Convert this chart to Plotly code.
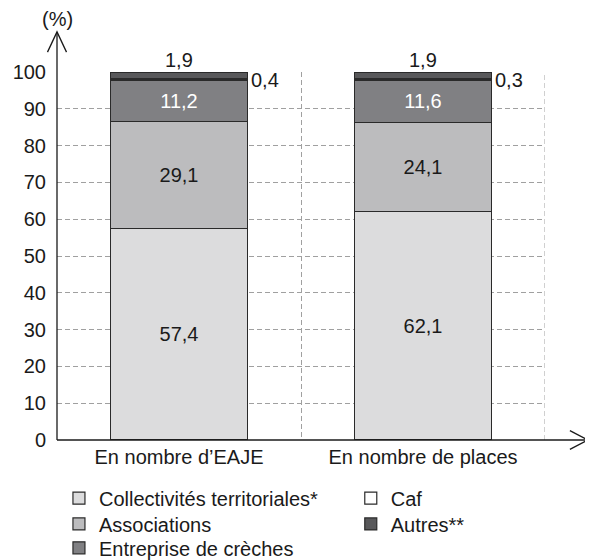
import plotly.graph_objects as go

categories = ["En nombre d\u2019EAJE", "En nombre de places"]
series_names = ["Collectivités territoriales*", "Associations", "Entreprise de crèches", "Caf", "Autres**"]
collectivites = [57.4, 62.1]
associations = [29.1, 24.1]
entreprise = [11.2, 11.6]
caf = [0.4, 0.3]
autres = [1.9, 1.9]
y_ticks = [0, 10, 20, 30, 40, 50, 60, 70, 80, 90, 100]

values = [collectivites, associations, entreprise, caf, autres]
colors = ["#dcdcdd", "#bcbcbe", "#808083", "#ffffff", "#58585a"]
text_colors = ["#1a1a1a", "#1a1a1a", "#ffffff", "#1a1a1a", "#1a1a1a"]
show_inside = [True, True, True, False, False]
# one legend per entry, laid out as 2 columns x 3 rows
legend_ids = ["legend", "legend2", "legend3", "legend4", "legend5"]
legend_pos = {  # (x, y) in plot-paper fractions
    "legend": (0.004, -0.158),
    "legend2": (0.004, -0.228),
    "legend3": (0.004, -0.293),
    "legend4": (0.602, -0.158),
    "legend5": (0.602, -0.228),
}

FONT = "Liberation Sans, Arial, sans-serif"
FS = 20
TXT = "#1a1a1a"

def fr(v):
    return f"{v:.1f}".replace(".", ",")

fig = go.Figure()
for name, vals, col, tcol, inside, lg in zip(series_names, values, colors, text_colors, show_inside, legend_ids):
    fig.add_trace(go.Bar(
        x=categories, y=vals, name=name,
        marker=dict(color=col, line=dict(color="#2a2a2a", width=1.2)),
        width=0.56,
        text=[fr(v) for v in vals] if inside else None,
        textposition="inside" if inside else "none",
        insidetextanchor="middle",
        textfont=dict(color=tcol, size=FS, family=FONT),
        legend=lg,
        hoverinfo="skip",
    ))

# Labels for the thin segments (Caf to the right, Autres above)
for i, cat in enumerate(categories):
    below_caf = round(collectivites[i] + associations[i] + entreprise[i], 6)
    total = round(below_caf + caf[i] + autres[i], 6)
    fig.add_annotation(x=cat, y=min(total, 100), text=fr(autres[i]),
                       showarrow=False, yanchor="bottom", yshift=-1,
                       font=dict(size=FS, family=FONT, color=TXT))
    fig.add_annotation(x=cat, y=below_caf + caf[i] / 2, text=fr(caf[i]),
                       showarrow=False, xanchor="left", xshift=70, yshift=0,
                       font=dict(size=FS, family=FONT, color=TXT))

fig.add_annotation(xref="paper", yref="paper", x=0, y=1.144, text="(%)",
                   showarrow=False, xanchor="center", yanchor="middle",
                   font=dict(size=FS, family=FONT, color=TXT))

# right-end dashed boundary line
fig.add_shape(type="line", xref="x", yref="y", x0=1.5, x1=1.5, y0=0, y1=100,
              line=dict(color="#a0a0a0", width=1, dash="5px,3px"), layer="below")

# Axis lines with open arrowheads (paper coords)
ax_col = "#1a1a1a"
fig.add_shape(type="line", xref="paper", yref="paper", x0=0, x1=0, y0=0, y1=1.109,
              line=dict(color=ax_col, width=1.3))
fig.add_shape(type="path", xref="paper", yref="paper",
              path="M -0.0195 1.054 L 0 1.109 L 0.0195 1.054", line=dict(color=ax_col, width=1.3))
fig.add_shape(type="line", xref="paper", yref="paper", x0=0, x1=1.088, y0=0, y1=0,
              line=dict(color=ax_col, width=1.3))
fig.add_shape(type="path", xref="paper", yref="paper",
              path="M 1.051 0.0253 L 1.088 0 L 1.051 -0.0253", line=dict(color=ax_col, width=1.3))

legends = {}
for lg, (lx, ly) in legend_pos.items():
    legends[lg] = dict(orientation="h", x=lx, y=ly, xanchor="left", yanchor="middle",
                       font=dict(size=FS, family=FONT, color=TXT),
                       itemwidth=30, bgcolor="rgba(0,0,0,0)")

fig.update_layout(
    width=585, height=552,
    margin=dict(l=49, r=48, t=64, b=120, autoexpand=False),
    barmode="stack",
    plot_bgcolor="white", paper_bgcolor="white",
    font=dict(family=FONT, size=FS, color=TXT),
    showlegend=True,
    **legends,
    xaxis=dict(showline=False, tickson="boundaries", showgrid=True, gridcolor="#a0a0a0",
               griddash="5px,3px", gridwidth=1, ticks="", tickfont=dict(size=FS, family=FONT),
               zeroline=False, range=[-0.5, 1.5], ticklabelstandoff=3),
    yaxis=dict(range=[0, 100], tickvals=y_ticks, showgrid=True, gridcolor="#a0a0a0",
               griddash="5px,3px", gridwidth=1, zeroline=False, showline=False, ticks="",
               tickfont=dict(size=FS, family=FONT), ticklabelstandoff=10),
)

fig.write_html("out.html")
